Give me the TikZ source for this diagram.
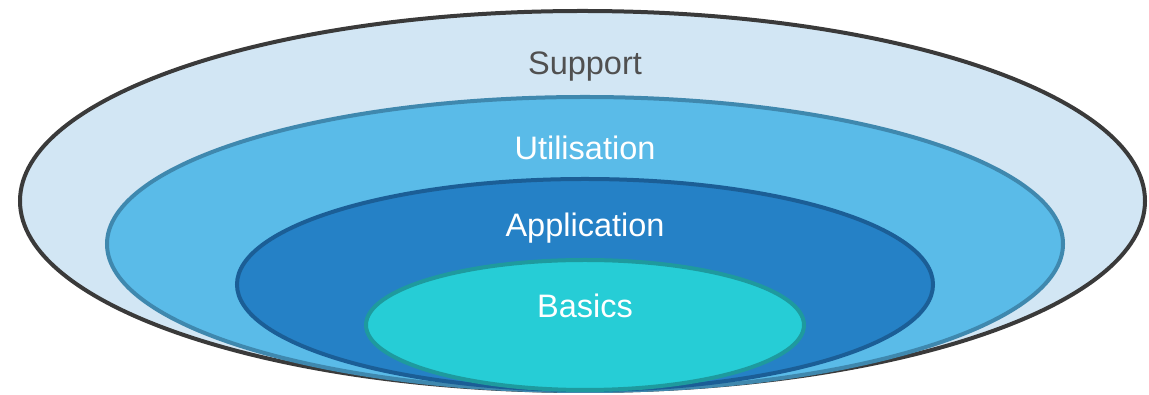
\documentclass[tikz,border=0pt]{standalone}
\usepackage{fontspec}
\setmainfont{Liberation Sans}
\usetikzlibrary{shapes.geometric}
\definecolor{supfill}{HTML}{D2E6F4}
\definecolor{supline}{HTML}{3A3A3A}
\definecolor{utifill}{HTML}{5ABBE8}
\definecolor{utiline}{HTML}{3F88AE}
\definecolor{appfill}{HTML}{2581C6}
\definecolor{appline}{HTML}{1B5E96}
\definecolor{basfill}{HTML}{26CDD6}
\definecolor{basline}{HTML}{1E9A9E}
\definecolor{suptext}{HTML}{505050}
\tikzset{
  ring/.style={ellipse, inner sep=0pt, line width=4pt},
  lbl/.style={font=\fontsize{32.5}{36}\selectfont, inner sep=0pt, anchor=base}
}
\begin{document}
\begin{tikzpicture}[x=1pt,y=1pt]
\useasboundingbox (0,0) rectangle (1149,395);
\node[ring, draw=supline, fill=supfill, minimum width=1125pt, minimum height=380pt] (support) at (582.5,194) {};
\node[ring, draw=utiline, fill=utifill, minimum width=956pt, minimum height=294pt] (util) at (585,151) {};
\node[ring, draw=appline, fill=appfill, minimum width=696pt, minimum height=211pt] (app) at (585,110.5) {};
\node[ring, draw=basline, fill=basfill, minimum width=438pt, minimum height=130pt] (basics) at (585,70) {};
\node[lbl, text=suptext] (tsup) at (585,320) {Support};
\node[lbl, text=white] (tutil) at (585,235) {Utilisation};
\node[lbl, text=white] (tapp) at (585,158) {Application};
\node[lbl, text=white] (tbas) at (585,77) {Basics};
\end{tikzpicture}
\end{document}
